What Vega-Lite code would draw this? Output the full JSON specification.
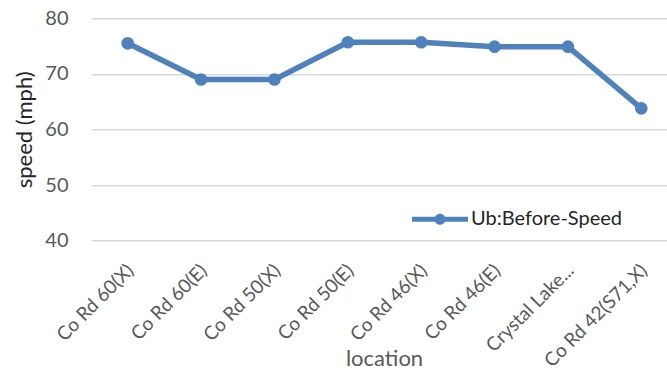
{
  "$schema": "https://vega.github.io/schema/vega-lite/v6.json",
  "width": 576,
  "height": 222.4,
  "autosize": "none",
  "padding": {"left": 91, "top": 18.3, "right": 0, "bottom": 128.3},
  "background": "white",
  "config": {
    "font": "Lato",
    "view": {"stroke": null}
  },
  "data": {
    "values": [
      {"location": "Co Rd 60(X)", "speed": 75.5, "series": "Ub:Before-Speed"},
      {"location": "Co Rd 60(E)", "speed": 69.0, "series": "Ub:Before-Speed"},
      {"location": "Co Rd 50(X)", "speed": 69.0, "series": "Ub:Before-Speed"},
      {"location": "Co Rd 50(E)", "speed": 75.7, "series": "Ub:Before-Speed"},
      {"location": "Co Rd 46(X)", "speed": 75.7, "series": "Ub:Before-Speed"},
      {"location": "Co Rd 46(E)", "speed": 74.9, "series": "Ub:Before-Speed"},
      {"location": "Crystal Lake...", "speed": 74.9, "series": "Ub:Before-Speed"},
      {"location": "Co Rd 42(S71,X)", "speed": 63.8, "series": "Ub:Before-Speed"}
    ]
  },
  "encoding": {
    "x": {
      "field": "location",
      "type": "ordinal",
      "sort": null,
      "scale": {"type": "point", "range": [0, 587], "padding": 0.5},
      "axis": {
        "title": "location",
        "titleFont": "Lato",
        "titleFontSize": 22,
        "titleFontWeight": "normal",
        "titleColor": "#595959",
        "titleX": 293,
        "titleY": 124.3,
        "titleBaseline": "alphabetic",
        "titleAnchor": "start",
        "titleAlign": "center",
        "labelAngle": -45,
        "labelAlign": "right",
        "labelBaseline": "top",
        "labelFontSize": 19,
        "labelColor": "#595959",
        "labelOffset": -4,
        "labelPadding": 20,
        "labelOverlap": false,
        "labelLimit": 0,
        "labelBound": false,
        "ticks": false,
        "domain": false,
        "grid": false
      }
    },
    "y": {
      "field": "speed",
      "type": "quantitative",
      "scale": {"domain": [40, 80], "nice": false, "zero": false},
      "axis": {
        "title": "speed (mph)",
        "titleFont": "Lato",
        "titleFontSize": 22,
        "titleFontWeight": "normal",
        "titleColor": "#262626",
        "titleAngle": -90,
        "titleX": -59.5,
        "titleY": 111,
        "titleBaseline": "alphabetic",
        "titleAlign": "center",
        "values": [40, 50, 60, 70, 80],
        "labelFontSize": 20,
        "labelColor": "#595959",
        "labelPadding": 23,
        "ticks": false,
        "domain": false,
        "grid": true,
        "gridColor": "#d9d9d9",
        "gridWidth": 1.5
      }
    }
  },
  "layer": [
    {
      "mark": {"type": "line", "color": "#4f81bd", "strokeWidth": 5.5, "strokeJoin": "round"}
    },
    {
      "mark": {"type": "point", "filled": true, "opacity": 1, "size": 160, "shape": "circle"},
      "encoding": {
        "color": {
          "field": "series",
          "type": "nominal",
          "scale": {"range": ["#4f81bd"]},
          "legend": {
            "title": null,
            "orient": "none",
            "legendX": 321,
            "legendY": 173,
            "symbolType": "M-1,-0.09H1V0.09H-1Z M0.196,0A0.196,0.196,0,1,1,-0.196,0A0.196,0.196,0,1,1,0.196,0Z",
            "symbolSize": 3136,
            "symbolStrokeWidth": 0,
            "symbolOpacity": 1,
            "labelFont": "Lato",
            "labelFontSize": 20,
            "labelColor": "#262626",
            "labelOffset": 3,
            "padding": 0
          }
        }
      }
    }
  ]
}
